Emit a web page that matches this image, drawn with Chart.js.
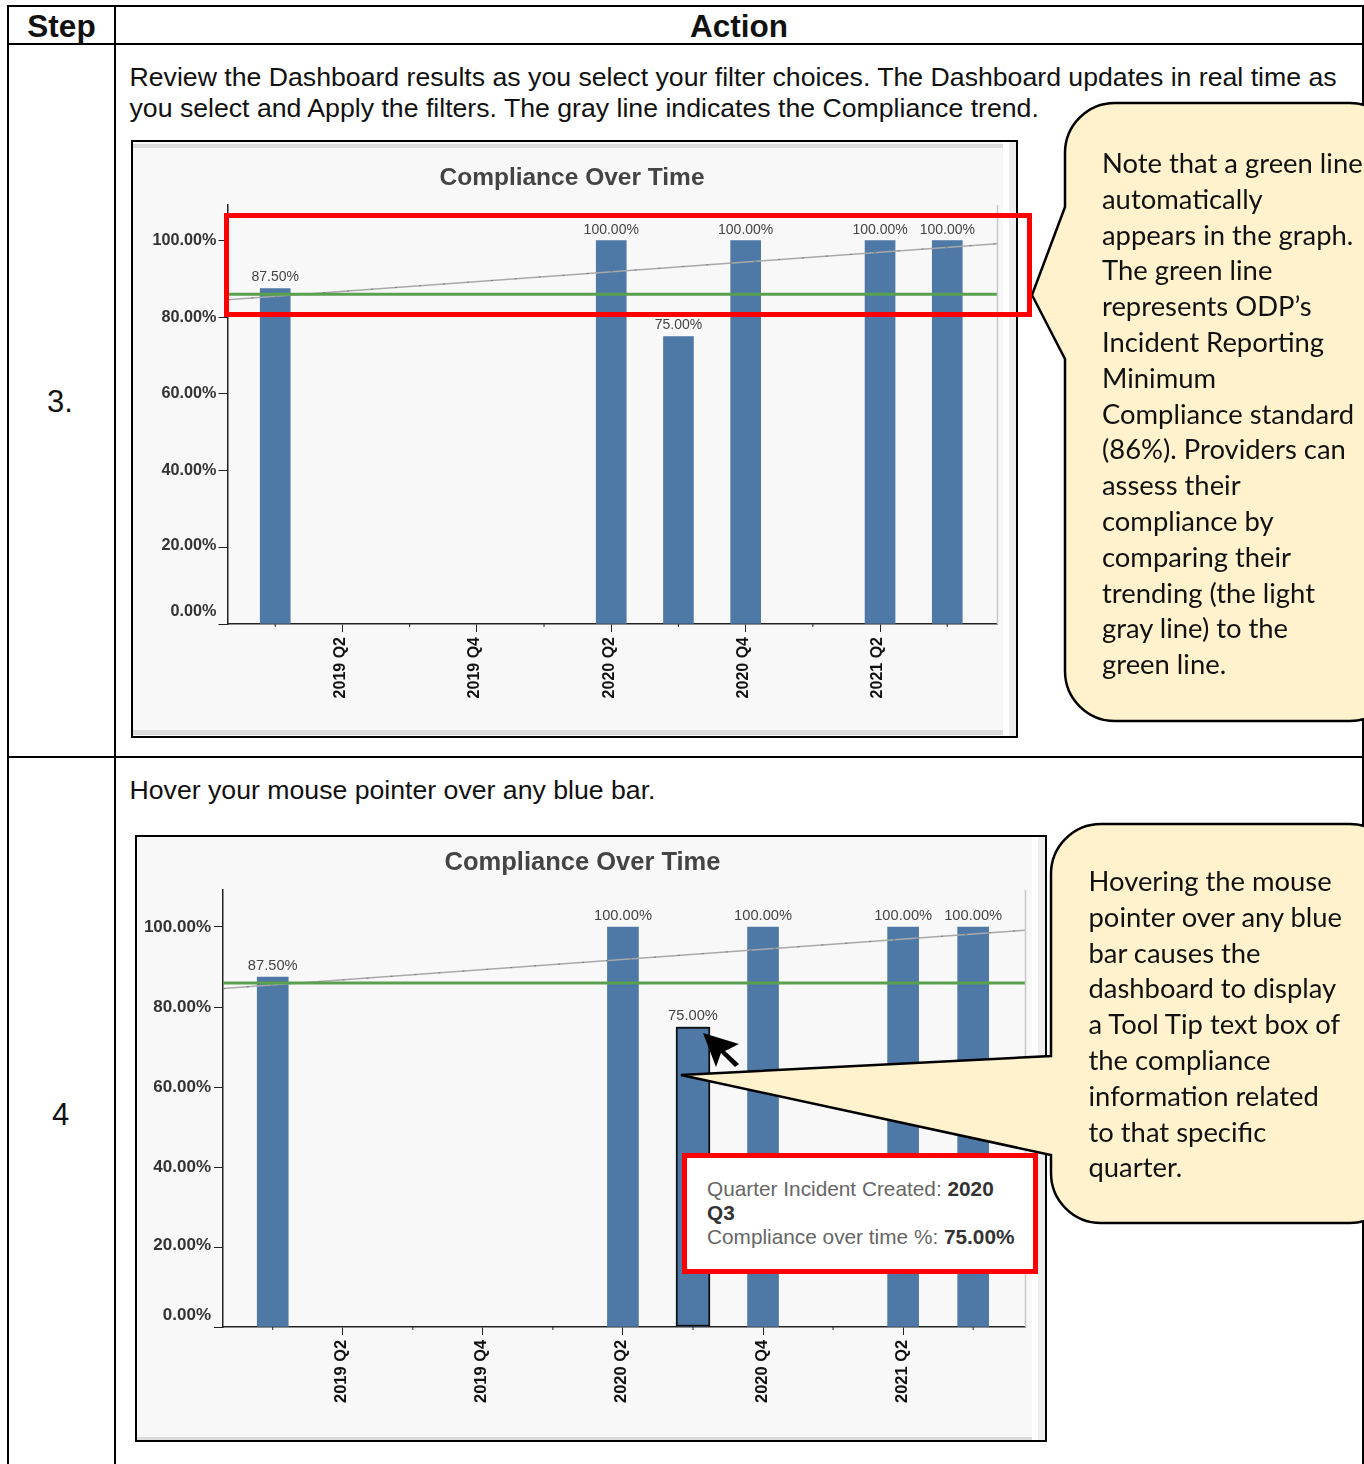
<!DOCTYPE html>
<html>
<head>
<meta charset="utf-8">
<title>Compliance Over Time</title>
<script src="https://cdn.jsdelivr.net/npm/chart.js@4"></script>
<style>
    html, body { margin: 0; padding: 0; background: #fff; }
    body { position: relative; width: 1364px; height: 1464px; overflow: hidden; font-family: "Liberation Sans", Arial, sans-serif; color: #111; }
    .abs { position: absolute; white-space: nowrap; }
    .rule { position: absolute; background: #000; }
    .head { font-weight: bold; font-size: 31.5px; line-height: 36px; text-align: center; top: 8px; }
    .body-text { font-size: 26.67px; line-height: 31px; left: 129.5px; }
    .step { font-size: 31px; line-height: 36px; }
    .panel { position: absolute; box-sizing: border-box; border: 2px solid #000; background: #f8f8f8; }
    .panel .top { position: absolute; left: 0; height: 4px; background: #dcdcdc; }
    .panel .bottom { position: absolute; left: 0; background: #dcdcdc; }
    .panel .side { position: absolute; top: 0; bottom: 0; width: 13px; background: linear-gradient(90deg, #fff 0 50%, #eee 50%); }
    canvas { position: absolute; }
    svg { position: absolute; left: 0; top: 0; }
    .note { font-family: Lato, "Open Sans", sans-serif; font-size: 27.4px; line-height: 35.8px; color: #111; }
    .redbox { position: absolute; box-sizing: border-box; border: 5px solid #f00; }
    .tip { background: #fff; }
    .tip div { position: absolute; left: 20px; white-space: nowrap; font-size: 20.8px; line-height: 24px; color: #666; }
    .tip b { color: #333; }
</style>
</head>
<body>

<div class="rule" style="left:7px;top:5px;width:1357px;height:2px"></div>
<div class="rule" style="left:7px;top:43px;width:1357px;height:2px"></div>
<div class="rule" style="left:7px;top:756px;width:1357px;height:2px"></div>
<div class="rule" style="left:7px;top:5px;width:2px;height:1459px"></div>
<div class="rule" style="left:114px;top:5px;width:2px;height:1459px"></div>
<div class="rule" style="left:1362px;top:5px;width:2px;height:1459px"></div>

<div class="abs head" style="left:9px;width:105px">Step</div>
<div class="abs head" style="left:116px;width:1246px">Action</div>

<div class="abs step" style="left:47px;top:384px">3.</div>
<div class="abs step" style="left:52px;top:1097px">4</div>

<div class="abs body-text" style="top:62px">Review the Dashboard results as you select your filter choices. The Dashboard updates in real time as</div>
<div class="abs body-text" style="top:93px">you select and Apply the filters. The gray line indicates the Compliance trend.</div>
<div class="abs body-text" style="top:775px">Hover your mouse pointer over any blue bar.</div>

<div class="panel" style="left:131px;top:140px;width:887px;height:598px">
    <div class="top" style="top:2px;width:870px"></div>
    <div class="bottom" style="top:588px;height:5px;width:870px"></div>
    <div class="side" style="left:870px"></div>
</div>
<canvas id="chartTop" style="left:133px;top:142px"></canvas>

<div class="panel" style="left:135px;top:835px;width:912px;height:607px">
    <div class="bottom" style="top:600px;height:3px;width:895px"></div>
    <div class="side" style="left:895px"></div>
</div>
<canvas id="chartBottom" style="left:137px;top:837px"></canvas>

<svg width="1364" height="1464" viewBox="0 0 1364 1464">
    <!-- speech bubbles, the right sides run off the page -->
    <path d="M1065 153 A50 50 0 0 1 1115 103 L1350 103 A50 50 0 0 1 1400 153 L1400 671 A50 50 0 0 1 1350 721 L1115 721 A50 50 0 0 1 1065 671 L1065 359 L1032 295 L1065 207 Z"
          fill="#fff2cc" stroke="#000" stroke-width="2.5"/>
    <path d="M1051 874 A50 50 0 0 1 1101 824 L1350 824 A50 50 0 0 1 1400 874 L1400 1173 A50 50 0 0 1 1350 1223 L1101 1223 A50 50 0 0 1 1051 1173 L1051 1155 L681 1075 L1051 1056 Z"
          fill="#fff2cc" stroke="#000" stroke-width="2.5"/>
    <!-- mouse pointer -->
    <polygon points="703,1033 739,1044 725,1051 739,1064 735,1067 721,1053 716,1067" fill="#000"/>
</svg>

<div class="redbox" style="left:224px;top:213px;width:808px;height:104px"></div>
<div class="redbox tip" style="left:682px;top:1153px;width:356px;height:121px">
    <div style="top:19px">Quarter Incident Created: <b>2020</b></div>
    <div style="top:43px"><b>Q3</b></div>
    <div style="top:67px">Compliance over time %: <b>75.00%</b></div>
</div>

<div class="abs note" style="left:1102px;top:145px">Note that a green line<br>automatically<br>appears in the graph.<br>The green line<br>represents ODP’s<br>Incident Reporting<br>Minimum<br>Compliance standard<br>(86%). Providers can<br>assess their<br>compliance by<br>comparing their<br>trending (the light<br>gray line) to the<br>green line.</div>
<div class="abs note" style="left:1088.5px;top:863px">Hovering the mouse<br>pointer over any blue<br>bar causes the<br>dashboard to display<br>a Tool Tip text box of<br>the compliance<br>information related<br>to that specific<br>quarter.</div>

<script>
const quarters = ['2019 Q1', '2019 Q2', '2019 Q3', '2019 Q4', '2020 Q1', '2020 Q2', '2020 Q3', '2020 Q4', '2021 Q1', '2021 Q2', '2021 Q3'];
const compliance = [87.5, null, null, null, null, 100, 75, 100, null, 100, 100];
const hovered = [null, null, null, null, null, null, 75, null, null, null, null];
const trendValues = [84.6, 99.2];
const minimumStandard = [86, 86];
const yTicks = [0, 20, 40, 60, 80, 100];

// quarter axis runs past the first and last bar
const X_MIN = -0.71;
const X_MAX = 10.74;
const BAR_BLUE = '#4e79a7';
const AXIS_COLOR = '#222';
const TEXT_COLOR = '#444';

// the two lowest axis labels sit a little above their tick
const yLabelLift = { 0: 12, 20: 2 };

function barPoints(values) {
    return values.map((v, i) => ({ x: i, y: v })).filter(p => p.y !== null);
}

function edgePoints(values) {
    return [{ x: X_MIN, y: values[0] }, { x: X_MAX, y: values[1] }];
}

// percent labels above the bars
const valueLabels = {
    id: 'valueLabels',
    afterDatasetsDraw(chart, args, opts) {
        const { ctx } = chart;
        chart.data.datasets.forEach((ds, i) => {
            if (!ds.showValues) return;
            chart.getDatasetMeta(i).data.forEach((bar, j) => {
                ctx.save();
                ctx.font = `${opts.size}px "Liberation Sans"`;
                ctx.fillStyle = TEXT_COLOR;
                ctx.textAlign = 'center';
                ctx.textBaseline = 'middle';
                ctx.fillText(ds.data[j].y.toFixed(2) + '%', bar.x, bar.y - opts.gap);
                ctx.restore();
            });
        });
    }
};

// short ticks for unlabelled quarters and the pale edge at the right
const axisExtras = {
    id: 'axisExtras',
    afterDraw(chart) {
        const { ctx, chartArea, scales } = chart;
        ctx.save();
        ctx.strokeStyle = '#c8c8c8';
        ctx.lineWidth = 1.5;
        ctx.beginPath();
        ctx.moveTo(chartArea.right + 0.5, chartArea.top);
        ctx.lineTo(chartArea.right + 0.5, chartArea.bottom);
        ctx.stroke();
        ctx.strokeStyle = AXIS_COLOR;
        ctx.lineWidth = 1;
        quarters.forEach((q, i) => {
            if (i % 2 === 1) return;
            const px = scales.x.getPixelForValue(i);
            ctx.beginPath();
            ctx.moveTo(px, chartArea.bottom);
            ctx.lineTo(px, chartArea.bottom + 3);
            ctx.stroke();
        });
        ctx.restore();
    }
};

// the title is centred on the panel, not on the plot's right edge
const titleShift = {
    id: 'titleShift',
    afterLayout(chart, args, opts) {
        chart.titleBlock.left += opts.dx;
        chart.titleBlock.right += opts.dx;
    }
};

function buildChart(id, cfg) {
    const canvas = document.getElementById(id);
    canvas.width = cfg.width;
    canvas.height = cfg.height;
    canvas.style.width = cfg.width + 'px';
    canvas.style.height = cfg.height + 'px';

    const datasets = [
        {
            type: 'line',
            data: edgePoints(minimumStandard),
            borderColor: '#59a14f',
            borderWidth: 3,
            pointRadius: 0,
            order: 0
        },
        {
            type: 'line',
            data: edgePoints(trendValues),
            borderColor: '#777',
            borderWidth: 1,
            borderDash: [2, 22],
            pointRadius: 0,
            order: 1
        },
        {
            type: 'line',
            data: edgePoints(trendValues),
            borderColor: '#a9a9a9',
            borderWidth: 1.5,
            pointRadius: 0,
            order: 1
        },
        {
            type: 'bar',
            data: barPoints(compliance),
            backgroundColor: BAR_BLUE,
            barThickness: cfg.barWidth,
            grouped: false,
            showValues: true,
            order: 3
        }
    ];

    if (cfg.showHover) {
        datasets.push({
            type: 'bar',
            data: barPoints(hovered),
            backgroundColor: BAR_BLUE,
            borderColor: '#111',
            borderWidth: 2,
            borderSkipped: false,
            barThickness: cfg.barWidth + 3,
            grouped: false,
            order: 2
        });
    }

    return new Chart(canvas, {
        data: { datasets },
        plugins: [valueLabels, axisExtras, titleShift],
        options: {
            responsive: false,
            animation: false,
            events: [],
            layout: { padding: { right: cfg.rightPad } },
            plugins: {
                legend: { display: false },
                tooltip: { enabled: false },
                valueLabels: { size: cfg.valueSize, gap: 11 },
                titleShift: { dx: cfg.titleDx },
                title: {
                    display: true,
                    text: 'Compliance Over Time',
                    color: TEXT_COLOR,
                    font: { family: 'Liberation Sans', size: cfg.titleSize, weight: 'bold', lineHeight: 1.2 },
                    padding: { top: cfg.titleTop, bottom: cfg.titleBottom }
                }
            },
            scales: {
                x: {
                    type: 'linear',
                    offset: false,
                    min: X_MIN,
                    max: X_MAX,
                    border: { color: AXIS_COLOR, width: 1.5 },
                    grid: {
                        offset: false,
                        drawOnChartArea: false,
                        tickLength: 8,
                        tickColor: c => (c.tick && c.tick.value % 2 === 1 ? AXIS_COLOR : 'transparent')
                    },
                    ticks: {
                        autoSkip: false,
                        minRotation: 90,
                        maxRotation: 90,
                        padding: 5,
                        labelOffset: cfg.xLabelShift,
                        color: '#111',
                        font: { family: 'Liberation Sans', size: cfg.xSize, weight: 'bold' },
                        callback: v => (v % 2 === 1 ? quarters[v] : '')
                    },
                    afterBuildTicks: axis => { axis.ticks = quarters.map((q, i) => ({ value: i })); },
                    afterFit: axis => { axis.height = cfg.xAxisHeight; }
                },
                y: {
                    min: 0,
                    max: cfg.yMax,
                    border: { color: AXIS_COLOR, width: 1.5 },
                    grid: { drawOnChartArea: false, tickLength: 9, tickColor: AXIS_COLOR },
                    ticks: {
                        padding: cfg.yPad,
                        color: '#333',
                        font: c => {
                            const lift = c.tick ? yLabelLift[c.tick.value] : 0;
                            const font = { family: 'Liberation Sans', size: cfg.ySize, weight: 'bold' };
                            if (lift) font.lineHeight = (2 * lift) / cfg.ySize;
                            return font;
                        },
                        callback: v => {
                            const text = v.toFixed(2) + '%';
                            return yLabelLift[v] ? [text, ''] : text;
                        }
                    },
                    afterBuildTicks: axis => { axis.ticks = yTicks.map(v => ({ value: v })); },
                    afterFit: axis => { axis.width = cfg.yAxisWidth; }
                }
            }
        }
    });
}

document.addEventListener('DOMContentLoaded', () => {
    buildChart('chartTop', {
        width: 892, height: 588, rightPad: 28, yAxisWidth: 94.5, xAxisHeight: 106,
        titleSize: 24.5, titleDx: 7, titleTop: 21.3, titleBottom: 12.3,
        yMax: 109.3, barWidth: 30, valueSize: 14, ySize: 16.2, yPad: 2, xSize: 16, xLabelShift: -2, showHover: false
    });
    buildChart('chartBottom', {
        width: 893, height: 600, rightPad: 5, yAxisWidth: 86, xAxisHeight: 110,
        titleSize: 25.5, titleDx: 1.5, titleTop: 10.7, titleBottom: 11.7,
        yMax: 109.25, barWidth: 31, valueSize: 14.7, ySize: 17, yPad: 3, xSize: 16.4, xLabelShift: -1, showHover: true
    });
});
</script>
</body>
</html>
